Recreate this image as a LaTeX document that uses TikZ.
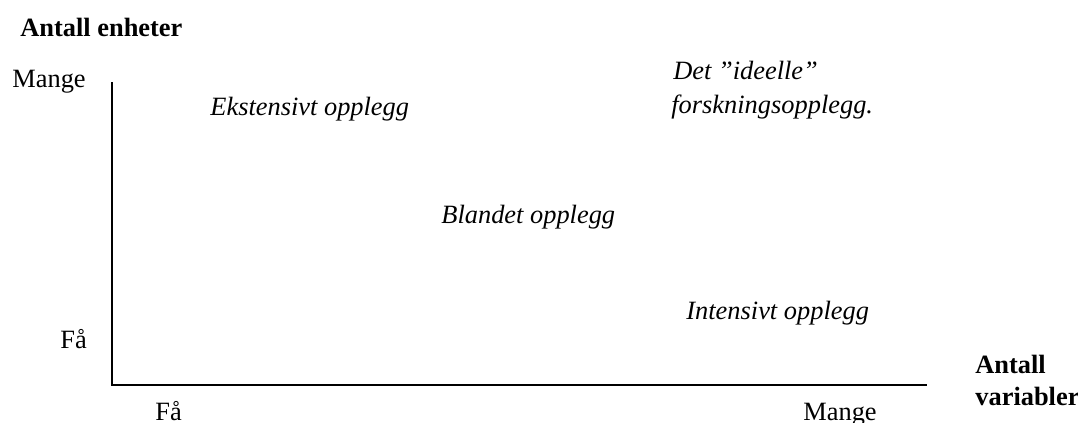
\documentclass[tikz,border=0pt]{standalone}
\usepackage{fontspec}
\setmainfont{Liberation Serif}
\usepackage{tikz}
\usetikzlibrary{positioning}

\begin{document}
\begin{tikzpicture}[
  x=0.5pt,y=-0.5pt,
  every node/.style={font=\fontsize{13.2}{15.5}\selectfont,inner sep=0pt,anchor=base west},
  axislabel/.style={font=\fontsize{13.2}{15.5}\selectfont\bfseries,align=left},
  region/.style={font=\fontsize{13.2}{15.5}\selectfont\itshape},
  axis/.style={line width=1.3pt,draw=black}
]
\useasboundingbox (0,0) rectangle (1078,423);
% axes
\coordinate (ytop) at (112,82);
\coordinate (origin) at (112,385);
\coordinate (xend) at (927,385);
\draw[axis] (ytop) -- (origin) -- (xend);
% axis titles
\node[axislabel] (ytitle) at (20,36) {Antall enheter};
\node[axislabel] (xtitle) at (975,405) {Antall\\[0.5pt]variabler};
% tick labels
\node (ymany) at (12,87) {Mange};
\node (yfew) at (60,348) {Få};
\node (xfew) at (155,420) {Få};
\node (xmany) at (803,420) {Mange};
% regions
\node[region] (extensive) at (210,115) {Ekstensivt opplegg};
\node[region] (ideal) at (673,79) {Det ”ideelle”};
\node[region] (idealb) at (671,113) {forskningsopplegg.};
\node[region] (mixed) at (441,223) {Blandet opplegg};
\node[region] (intensive) at (686,319) {Intensivt opplegg};
\end{tikzpicture}
\end{document}
